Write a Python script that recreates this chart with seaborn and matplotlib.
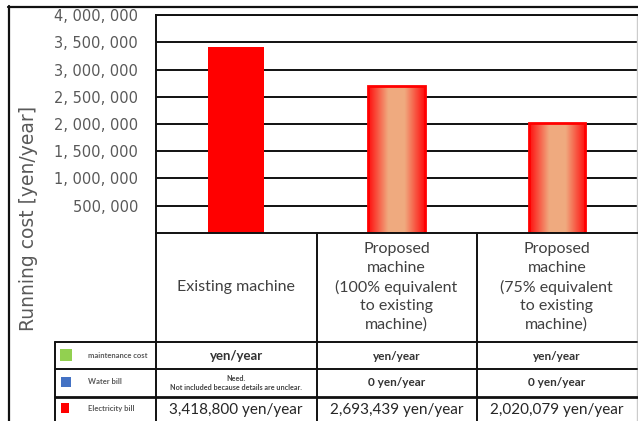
import numpy as np
import pandas as pd
import matplotlib
matplotlib.use("Agg")
import matplotlib.pyplot as plt
import matplotlib.transforms as mtransforms
import seaborn as sns

# --- data -------------------------------------------------------------
categories = [
    "Existing machine",
    "Proposed\nmachine\n(100% equivalent\nto existing\nmachine)",
    "Proposed\nmachine\n(75% equivalent\nto existing\nmachine)",
]
running_cost = [3418800, 2693439, 2020079]
yticks = [500000, 1000000, 1500000, 2000000, 2500000, 3000000, 3500000, 4000000]
ytick_labels = ["500, 000", "1, 000, 000", "1, 500, 000", "2, 000, 000",
                "2, 500, 000", "3, 000, 000", "3, 500, 000", "4, 000, 000"]
row_names = ["maintenance cost", "Water bill", "Electricity bill"]
row_colors = ["#92D050", "#4472C4", "#FF0000"]
maint_text = ["yen/year", "yen/year", "yen/year"]
water_text = ["Need.\nNot included because details are unclear.", "0 yen/year", "0 yen/year"]
elec_text = ["3,418,800 yen/year", "2,693,439 yen/year", "2,020,079 yen/year"]

df = pd.DataFrame({"machine": categories, "cost": running_cost})

sns.set_style("white")
plt.rcParams['font.family'] = ['DejaVu Sans']

W, H = 638, 421
fig = plt.figure(figsize=(W / 100, H / 100), dpi=100)

# overlay in pixel coordinates for the table / frame
ov = fig.add_axes([0, 0, 1, 1], zorder=0)
ov.set_xlim(0, W)
ov.set_ylim(H, 0)
ov.axis("off")

ax = fig.add_axes([156 / W, 1 - 233 / H, (637 - 156) / W, (233 - 15) / H], zorder=2)
ax.patch.set_alpha(0)

sns.barplot(data=df, x="machine", y="cost", hue="machine",
            palette=["#FF0000", "#FF0000", "#FF0000"], width=0.35,
            legend=False, ax=ax, saturation=1)

ax.set_ylim(0, 4000000)
ax.set_xlim(-0.5, 2.5)
ax.set_yticks(yticks)
ax.set_yticklabels(ytick_labels, color="#595959", fontsize=10.5)
ax.tick_params(axis="y", length=0, pad=13)
ax.set_xticks(range(len(categories)))
ax.set_xticklabels(categories, color="#404040", fontsize=11.5, family="Lato",
                   va="center", linespacing=1.4)
ax.tick_params(axis="x", length=0, pad=39)
ax.set_xlabel("")
ax.set_ylabel("Running cost [yen/year]", color="#595959", fontsize=13.5)
ax.yaxis.set_label_coords(-0.245, 0.069)

for y in yticks:
    ax.axhline(y, color="#111111", lw=1.4, zorder=0)

for s in ["left", "top", "bottom"]:
    ax.spines[s].set_color("#111111")
    ax.spines[s].set_linewidth(1.4)
ax.spines["right"].set_color("#cccccc")
ax.spines["right"].set_linewidth(1)

# gradient fill for the proposed machines
red = np.array([1.0, 0.05, 0.05])
salmon = np.array([0.94, 0.67, 0.50])
xs = np.linspace(0, 1, 200)
t = np.clip((1 - np.abs(2 * xs - 1)) * 1.4, 0, 1)
grad = red[None, :] + (salmon - red)[None, :] * t[:, None]
grad = grad[None, :, :]
for i, p in enumerate(ax.patches):
    if i == 0:
        p.set_edgecolor("none")
        continue
    x0, y0 = p.get_x(), p.get_y()
    w, h = p.get_width(), p.get_height()
    im = ax.imshow(grad, extent=(x0, x0 + w, y0, y0 + h), aspect="auto",
                   zorder=p.get_zorder() + 0.1, interpolation="bilinear")
    im.set_clip_path(p)
    edge = plt.Rectangle((x0, y0), w, h, fill=False, edgecolor="#FF0000",
                         lw=2, zorder=p.get_zorder() + 0.2)
    ax.add_patch(edge)
ax.set_ylim(0, 4000000)
ax.set_xlim(-0.5, 2.5)

# --- frame and table lines -------------------------------------------
lc = "#111111"
ov.plot([8, W], [6.5, 6.5], color=lc, lw=1.6)
ov.plot([8.5, 8.5], [6, H], color=lc, lw=1.6)
for x in [156, 317, 477]:
    ov.plot([x, x], [233, H], color=lc, lw=1.4)
ov.plot([637, 637], [233, H], color="#cccccc", lw=1)
ov.plot([55, 55], [342, H], color=lc, lw=1.4)
ov.plot([55, 637], [342, 342], color=lc, lw=1.4)
ov.plot([55, 637], [369, 369], color=lc, lw=1.4)
ov.plot([55, 637], [396.5, 396.5], color=lc, lw=2)

# legend column
row_y = [355, 382, 408]
sq = [(60, 349, 12, 12), (61, 377, 10, 10), (61, 403, 8, 10)]
for (sx, sy, sw, sh), c in zip(sq, row_colors):
    ov.add_patch(plt.Rectangle((sx, sy), sw, sh, color=c, lw=0))
for name, y in zip(row_names, row_y):
    ov.text(88, y, name, fontsize=5.5, fontweight="bold", color="#595959",
            va="center", ha="left", family="Lato")

# table values, columns follow the bar positions
tr = mtransforms.blended_transform_factory(ax.transData, ov.transData)
for i in range(len(categories)):
    ov.text(i, 356, maint_text[i], transform=tr, ha="center", va="center",
            fontsize=9.5 if i == 0 else 8.5, fontweight="bold", color="#333333",
            family="Lato")
    if i == 0:
        ov.text(i, 383, water_text[i], transform=tr, ha="center", va="center",
                fontsize=5.2, fontweight="bold", color="#444444", family="Lato",
                linespacing=1.3)
    else:
        ov.text(i, 383, water_text[i], transform=tr, ha="center", va="center",
                fontsize=8.5, fontweight="bold", color="#333333", family="Lato")
    ov.text(i, 410, elec_text[i], transform=tr, ha="center", va="center",
            fontsize=11, color="#262626", family="Lato")

plt.savefig("out.png", dpi=100)
